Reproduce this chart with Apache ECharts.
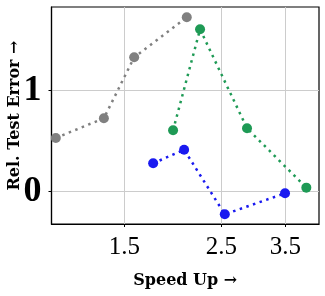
<!DOCTYPE html>
<html><head><meta charset="utf-8">
<script src="https://cdn.jsdelivr.net/npm/echarts@6/dist/echarts.min.js"></script>
<style>html,body{margin:0;padding:0;background:#fff}#c{width:325px;height:296px}</style>
</head><body><div id="c"></div>
<script>
const grayX = [1.045, 1.346, 1.579, 2.083];
const grayY = [0.528, 0.723, 1.327, 1.723];
const greenX = [1.938, 2.234, 2.861, 3.91];
const greenY = [0.604, 1.604, 0.624, 0.036];
const blueX = [1.745, 2.054, 2.545, 3.495];
const blueY = [0.277, 0.412, -0.228, -0.02];
const xTicks = [1.5, 2.5, 3.5];
const yTicks = [0, 1];

// x axis is logarithmic: positions are ln(speed up)
const L = Math.log;
const pairs = (xs, ys) => xs.map((x, i) => [L(x), ys[i]]);
function mk(name, xs, ys, color) {
  return {
    name, type: 'line', data: pairs(xs, ys), symbol: 'circle', symbolSize: 10,
    itemStyle: { color }, lineStyle: { color, width: 2.5, type: [2.5, 4.5] },
    animation: false
  };
}
const chart = echarts.init(document.getElementById('c'));
chart.setOption({
  animation: false,
  grid: { left: 51.5, right: 6, top: 7, bottom: 72, containLabel: false, outerBoundsMode: 'none', show: true, borderColor: '#000', borderWidth: 1.2, backgroundColor: 'transparent' },
  xAxis: {
    type: 'value', min: L(1.0215), max: L(4.18),
    name: 'Speed Up →', nameLocation: 'middle', nameGap: 49, nameMoveOverlap: false,
    nameTextStyle: { fontFamily: 'DejaVu Serif', fontWeight: 'bold', fontSize: 16, color: '#000' },
    axisLine: { show: true, onZero: false, lineStyle: { color: '#000', width: 1.2 } },
    axisTick: { show: true, customValues: xTicks.map(L), length: 3, lineStyle: { color: '#000' } },
    axisLabel: { customValues: xTicks.map(L), formatter: v => Math.exp(v).toFixed(1), fontFamily: 'Liberation Serif', fontSize: 25, color: '#000', margin: 11 },
    splitLine: { show: true, lineStyle: { color: '#cccccc', width: 1 } }
  },
  yAxis: {
    type: 'value', min: -0.324, max: 1.825,
    name: 'Rel. Test Error →', nameLocation: 'middle', nameGap: 29, nameRotate: 90, nameMoveOverlap: false,
    nameTextStyle: { fontFamily: 'DejaVu Serif', fontWeight: 'bold', fontSize: 16, color: '#000' },
    axisLine: { show: true, onZero: false, lineStyle: { color: '#000', width: 1.2 } },
    axisTick: { show: true, customValues: yTicks, length: 3, lineStyle: { color: '#000' } },
    axisLabel: { customValues: yTicks, formatter: v => String(Math.round(v)), fontFamily: 'Liberation Serif', fontWeight: 'bold', fontSize: 36, color: '#000', margin: 10 },
    splitLine: { show: true, lineStyle: { color: '#cccccc', width: 1 } }
  },
  series: [
    mk('gray', grayX, grayY, '#808080'),
    mk('green', greenX, greenY, '#1e9a55'),
    mk('blue', blueX, blueY, '#1a1af0')
  ]
});
</script></body></html>
